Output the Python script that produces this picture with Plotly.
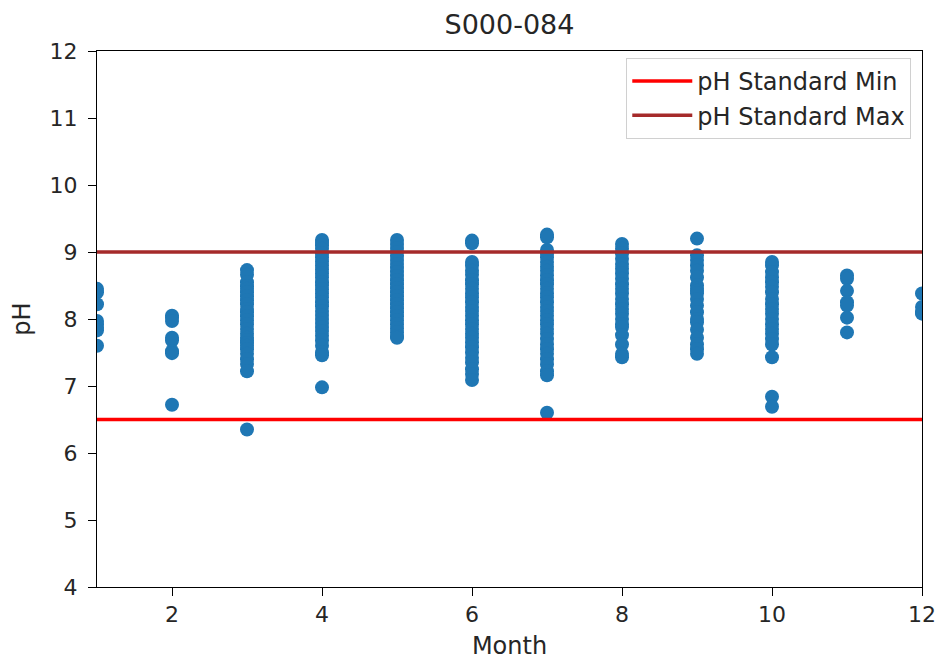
import plotly.graph_objects as go

months = list(range(1, 13))
ph_by_month = {
    1: [8.45, 8.40, 8.22, 7.97, 7.92, 7.87, 7.83, 7.60],
    2: [8.05, 8.02, 7.97, 7.72, 7.68, 7.52, 7.49, 6.72],
    3: [8.73, 8.66, 8.55, 8.49, 8.45, 8.40, 8.34, 8.28, 8.22, 8.15, 8.10, 8.04, 7.98,
        7.92, 7.85, 7.78, 7.72, 7.68, 7.64, 7.60, 7.55, 7.48, 7.40, 7.33, 7.22, 6.35],
    4: [9.18, 9.15, 9.10, 9.05, 8.98, 8.92, 8.86, 8.80, 8.74, 8.68, 8.62, 8.55, 8.50,
        8.44, 8.38, 8.32, 8.25, 8.19, 8.12, 8.06, 8.00, 7.94, 7.88, 7.82, 7.75, 7.68,
        7.60, 7.50, 7.46, 6.98],
    5: [9.18, 9.12, 9.06, 9.00, 8.94, 8.88, 8.82, 8.76, 8.70, 8.64, 8.58, 8.52, 8.46,
        8.40, 8.34, 8.28, 8.22, 8.16, 8.10, 8.04, 7.98, 7.92, 7.86, 7.80, 7.74, 7.72],
    6: [9.17, 9.13, 8.85, 8.80, 8.72, 8.66, 8.58, 8.52, 8.45, 8.38, 8.32, 8.25, 8.18,
        8.12, 8.05, 7.98, 7.92, 7.85, 7.78, 7.72, 7.65, 7.58, 7.50, 7.42, 7.35, 7.25,
        7.18, 7.09],
    7: [9.26, 9.22, 9.03, 8.98, 8.92, 8.85, 8.78, 8.72, 8.65, 8.58, 8.52, 8.45, 8.38,
        8.32, 8.25, 8.18, 8.12, 8.05, 7.98, 7.92, 7.85, 7.78, 7.70, 7.62, 7.55, 7.48,
        7.40, 7.32, 7.22, 7.16, 6.60],
    8: [9.12, 9.05, 8.98, 8.90, 8.82, 8.75, 8.68, 8.60, 8.52, 8.45, 8.38, 8.30, 8.22,
        8.15, 8.08, 8.00, 7.92, 7.88, 7.76, 7.62, 7.48, 7.43],
    9: [9.20, 8.95, 8.88, 8.80, 8.72, 8.62, 8.50, 8.45, 8.42, 8.38, 8.30, 8.20, 8.10,
        8.00, 7.95, 7.84, 7.72, 7.62, 7.55, 7.48],
    10: [8.85, 8.80, 8.70, 8.62, 8.55, 8.48, 8.40, 8.30, 8.22, 8.15, 8.08, 8.00, 7.92,
         7.85, 7.78, 7.70, 7.62, 7.43, 6.84, 6.69],
    11: [8.65, 8.60, 8.42, 8.25, 8.20, 8.02, 7.80],
    12: [8.38, 8.18, 8.10, 8.08],
}
ph_min = 6.5
ph_max = 9.0
x_ticks = [2, 4, 6, 8, 10, 12]
y_ticks = [4, 5, 6, 7, 8, 9, 10, 11, 12]

xs, ys = [], []
for m in months:
    for v in ph_by_month[m]:
        xs.append(m)
        ys.append(v)

font = "DejaVu Sans, sans-serif"
fig = go.Figure()
fig.add_trace(go.Scatter(x=xs, y=ys, mode="markers", showlegend=False,
                         marker=dict(color="#1f77b4", size=14, line=dict(width=0))))
fig.add_trace(go.Scatter(x=[1, 12], y=[ph_min, ph_min], mode="lines",
                         name="pH Standard Min", line=dict(color="#ff0000", width=3.5)))
fig.add_trace(go.Scatter(x=[1, 12], y=[ph_max, ph_max], mode="lines",
                         name="pH Standard Max", line=dict(color="#a52a2a", width=3.5)))

fig.update_layout(
    width=936, height=660,
    margin=dict(l=97, r=14, t=51, b=73),
    paper_bgcolor="white", plot_bgcolor="white",
    font=dict(family=font, size=22, color="#262626"),
    title=dict(text="S000-084", x=(97 + 922) / 2 / 936, xanchor="center",
               y=1 - 25 / 660, yanchor="middle", font=dict(size=27, color="#262626")),
    legend=dict(x=0.987, y=0.987, xanchor="right", yanchor="top",
                bordercolor="#d0d0d0", borderwidth=1, bgcolor="rgba(255,255,255,0.8)",
                font=dict(size=24), itemwidth=60),
    showlegend=True,
)
fig.update_xaxes(range=[1, 12], tickvals=x_ticks, showgrid=False, zeroline=False,
                 showline=True, linecolor="black", linewidth=1, mirror=True,
                 ticks="outside", ticklen=8, tickcolor="black", automargin=False,
                 title=dict(text="Month", standoff=16, font=dict(size=24)))
fig.update_yaxes(range=[4, 12], tickvals=y_ticks, showgrid=False, zeroline=False,
                 showline=True, linecolor="black", linewidth=1, mirror=True,
                 ticks="outside", ticklen=8, tickcolor="black", automargin=False,
                 ticklabelstandoff=6,
                 title=dict(text="pH", standoff=12, font=dict(size=24)))

fig.write_html("out.html")
